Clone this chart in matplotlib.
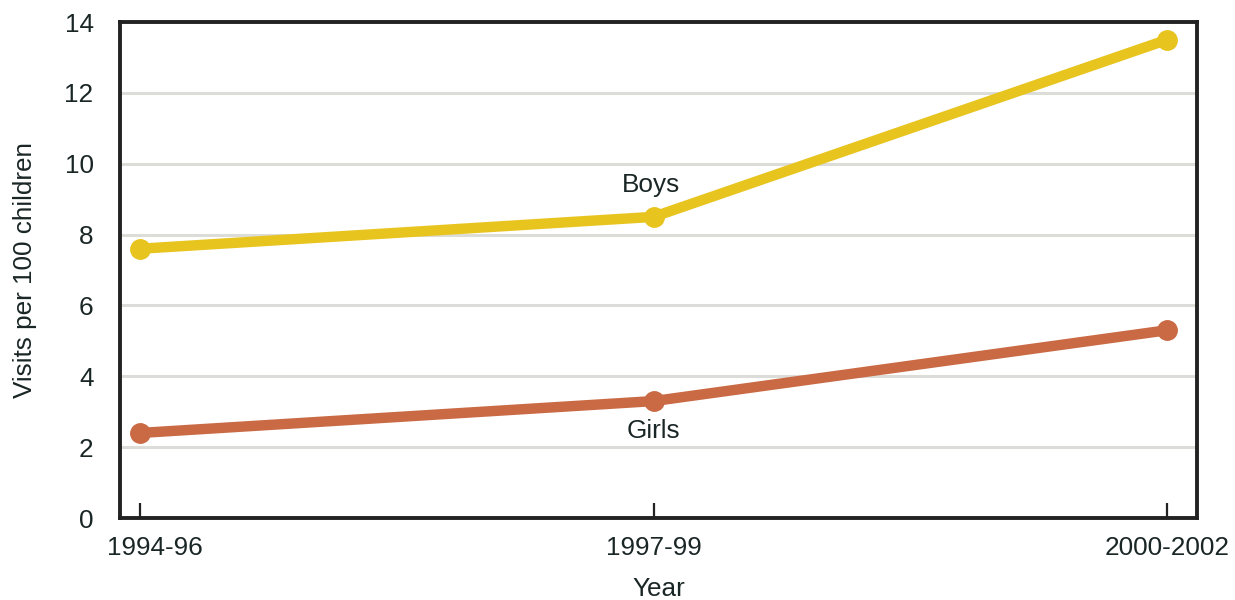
import matplotlib
matplotlib.use("Agg")
import matplotlib.pyplot as plt
import matplotlib.transforms as mtransforms

# ── Data ─────────────────────────────────────────────────────────────────────
periods = ["1994-96", "1997-99", "2000-2002"]
boys = [7.6, 8.5, 13.5]
girls = [2.4, 3.3, 5.3]

YELLOW = "#E8C41F"
ORANGE = "#C96A45"
TEXT = "#1a2626"
FS = 18.8

plt.rcParams["font.family"] = ["Liberation Sans", "DejaVu Sans"]

fig = plt.figure(figsize=(12.35, 6), dpi=100)
ax = fig.add_axes([120 / 1235, 82 / 600, 1077 / 1235, 496 / 600])

x = list(range(len(periods)))
ax.plot(x, boys, color=YELLOW, lw=7.5, marker="o", ms=14, solid_capstyle="round", zorder=3)
ax.plot(x, girls, color=ORANGE, lw=7.5, marker="o", ms=14, solid_capstyle="round", zorder=3)

ax.text(0.995, boys[1] + 0.9, "Boys", ha="center", va="center", fontsize=FS, color=TEXT)
ax.text(1.0, girls[1] - 0.85, "Girls", ha="center", va="center", fontsize=FS, color=TEXT)

ax.set_xlim(-0.039, 2.058)
ax.set_ylim(0, 14)
ax.set_yticks(range(0, 15, 2))
ax.set_xticks(x)
ax.set_xticklabels(periods)

for yv in range(2, 14, 2):
    ax.axhline(yv, color="#DCDCD8", lw=2.2, zorder=1)

for s in ax.spines.values():
    s.set_linewidth(2.8)
    s.set_color("#222222")

ax.tick_params(axis="y", length=0, pad=19, labelsize=FS, labelcolor=TEXT)
ax.tick_params(axis="x", direction="in", length=11, width=1.6, color="#222222",
               pad=13, labelsize=FS, labelcolor=TEXT)

# first period label sits a little right of its tick in the original
first = ax.get_xticklabels()[0]
first.set_transform(first.get_transform()
                    + mtransforms.ScaledTranslation(15 / 100, 0, fig.dpi_scale_trans))

ax.set_xlabel("Year", fontsize=FS, color=TEXT, labelpad=12)
ax.set_ylabel("Visits per 100 children", fontsize=FS, color=TEXT, labelpad=20)

fig.savefig("out.png", dpi=100)
